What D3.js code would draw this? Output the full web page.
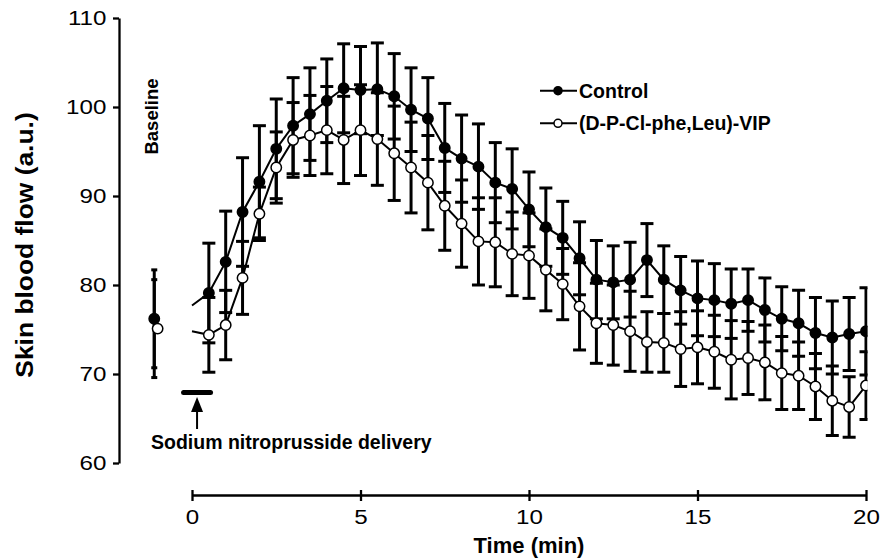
<!DOCTYPE html>
<html>
<head>
<meta charset="utf-8">
<script src="https://cdn.jsdelivr.net/npm/d3@7"></script>
<style>
  html, body { margin: 0; padding: 0; background: #fff; }
  svg { display: block; font-family: "Liberation Sans", Arial, Helvetica, sans-serif; }
</style>
</head>
<body>
<svg id="chart" width="892" height="559"></svg>
<script>
// Sampling times (min) after the start of sodium nitroprusside delivery
const timeMin = [0.5, 1, 1.5, 2, 2.5, 3, 3.5, 4, 4.5, 5, 5.5, 6, 6.5, 7, 7.5, 8, 8.5, 9, 9.5, 10,
                 10.5, 11, 11.5, 12, 12.5, 13, 13.5, 14, 14.5, 15, 15.5, 16, 16.5, 17, 17.5, 18, 18.5, 19, 19.5, 20];

// Control: mean and SEM
const controlMean = [79.1, 82.6, 88.2, 91.6, 95.3, 97.9, 99.2, 100.7, 102.1, 101.9,
                     102.0, 101.2, 99.7, 98.7, 95.4, 94.2, 93.3, 91.5, 90.8, 88.5,
                     86.5, 85.3, 83.0, 80.6, 80.3, 80.6, 82.8, 80.6, 79.4, 78.5,
                     78.3, 77.9, 78.3, 77.2, 76.2, 75.7, 74.6, 74.1, 74.5, 74.8];
const controlSem  = [5.6, 5.7, 6.1, 6.3, 5.6, 5.4, 5.2, 4.7, 5.0, 4.9,
                     5.2, 4.8, 4.7, 4.6, 5.0, 4.9, 4.8, 4.5, 4.5, 4.2,
                     4.4, 4.1, 4.1, 4.4, 4.1, 4.2, 4.1, 3.8, 3.8, 4.2,
                     4.1, 3.9, 3.5, 3.6, 3.6, 3.7, 4.0, 4.1, 4.1, 4.9];

// (D-P-Cl-phe,Leu)-VIP: mean and SEM
const vipMean = [74.4, 75.5, 80.8, 88.0, 93.2, 96.3, 96.8, 97.4, 96.3, 97.4,
                 96.4, 94.8, 93.2, 91.5, 88.9, 86.9, 84.9, 84.8, 83.5, 83.3,
                 81.7, 80.1, 77.6, 75.7, 75.5, 74.8, 73.6, 73.5, 72.8, 73.0,
                 72.5, 71.6, 71.8, 71.3, 70.1, 69.8, 68.6, 67.0, 66.3, 68.7];
const vipSem  = [4.2, 3.9, 4.1, 3.0, 4.0, 4.2, 4.5, 4.9, 4.9, 5.1,
                 5.2, 5.3, 5.1, 5.3, 5.0, 4.9, 4.9, 5.0, 4.7, 4.8,
                 4.6, 4.0, 4.9, 4.5, 4.5, 4.5, 3.4, 3.3, 4.2, 4.1,
                 4.1, 4.4, 4.1, 4.2, 4.1, 3.8, 3.7, 3.9, 3.4, 3.8];

// Curve values at delivery onset (t = 0, no marker)
const onsetTime = 0;
const onsetValue = [77.7, 74.8];          // control, VIP

// Baseline (before delivery): control, VIP
const baselineTime = [-1.12, -1.02];
const baselineMean = [76.2, 75.1];
const baselineSem  = [5.5, 5.5];

const seriesNames = ["Control", "(D-P-Cl-phe,Leu)-VIP"];
const xTicks = [0, 5, 10, 15, 20];
const yTicks = [60, 70, 80, 90, 100, 110];
const deliveryWindow = [-0.25, 0.55];     // min

const svg = d3.select("#chart");
const x = d3.scaleLinear().domain([0, 20]).range([192, 866]);
const y = d3.scaleLinear().domain([60, 110]).range([463, 18]);

const axisY = 119;   // x-position of the value axis
const axisX = 495;   // y-position of the time axis
const tickFont = 21, tickStretch = 1.15;

// ---- clip so the last error bar is cut at the end of the time axis
svg.append("defs").append("clipPath").attr("id", "plotClip")
  .append("rect").attr("x", 0).attr("y", 0).attr("width", x(20) + 1.5).attr("height", 559);

// ---- value axis
const gy = svg.append("g").attr("transform", `translate(${axisY},0)`)
  .call(d3.axisLeft(y).tickValues(yTicks).tickSize(6).tickSizeOuter(0).tickPadding(5));
gy.select(".domain").attr("stroke", "#000").attr("stroke-width", 2.3);
gy.selectAll(".tick line").attr("stroke", "#000").attr("stroke-width", 2.3);
gy.selectAll(".tick text").attr("font-size", tickFont).attr("fill", "#000")
  .attr("font-family", "Liberation Sans, Arial, sans-serif")
  .attr("transform", `scale(${tickStretch},1)`);

// ---- time axis
const gx = svg.append("g").attr("transform", `translate(0,${axisX})`)
  .call(d3.axisBottom(x).tickValues(xTicks).tickSize(6).tickSizeOuter(0).tickPadding(8));
gx.select(".domain").attr("stroke", "#000").attr("stroke-width", 2.3);
gx.selectAll(".tick line").attr("stroke", "#000").attr("stroke-width", 2.3).attr("y1", -5);
gx.selectAll(".tick text").attr("font-size", tickFont).attr("fill", "#000")
  .attr("font-family", "Liberation Sans, Arial, sans-serif")
  .attr("transform", `scale(${tickStretch},1)`);

// ---- axis titles
svg.append("text")
  .attr("transform", `translate(33,245) rotate(-90) scale(1.1,1)`)
  .attr("text-anchor", "middle").attr("font-size", 24).attr("font-weight", "bold")
  .text("Skin blood flow (a.u.)");
svg.append("text")
  .attr("x", (x(0) + x(20)) / 2).attr("y", 553)
  .attr("text-anchor", "middle").attr("font-size", 22).attr("font-weight", "bold")
  .text("Time (min)");

// ---- annotations
svg.append("text")
  .attr("transform", `translate(158,116.5) rotate(-90)`)
  .attr("text-anchor", "middle").attr("font-size", 18.5).attr("font-weight", "bold")
  .text("Baseline");

const delivY = 392.5;
svg.append("line")
  .attr("x1", x(deliveryWindow[0])).attr("x2", x(deliveryWindow[1]))
  .attr("y1", delivY).attr("y2", delivY)
  .attr("stroke", "#000").attr("stroke-width", 5).attr("stroke-linecap", "round");
const arrowX = (x(deliveryWindow[0]) + x(deliveryWindow[1])) / 2;
svg.append("line").attr("x1", arrowX).attr("x2", arrowX).attr("y1", 408).attr("y2", 429)
  .attr("stroke", "#000").attr("stroke-width", 2);
svg.append("path")
  .attr("d", `M${arrowX},397 L${arrowX - 6},412 L${arrowX + 6},412 Z`).attr("fill", "#000");
svg.append("text").attr("x", 151).attr("y", 449)
  .attr("font-size", 19.5).attr("font-weight", "bold")
  .text("Sodium nitroprusside delivery");

// ---- data layers
const plot = svg.append("g").attr("clip-path", "url(#plotClip)");

function errorBars(g, xs, means, sems, capW) {
  const rows = xs.map((t, i) => ({ t, m: means[i], s: sems[i] }));
  const eb = g.append("g").attr("stroke", "#000").attr("stroke-width", 3);
  eb.selectAll("line.v").data(rows).join("line").attr("class", "v")
    .attr("x1", d => x(d.t)).attr("x2", d => x(d.t))
    .attr("y1", d => y(d.m + d.s)).attr("y2", d => y(d.m - d.s));
  eb.selectAll("line.top").data(rows).join("line").attr("class", "top")
    .attr("x1", d => x(d.t) - capW / 2).attr("x2", d => x(d.t) + capW / 2)
    .attr("y1", d => y(d.m + d.s)).attr("y2", d => y(d.m + d.s));
  eb.selectAll("line.bot").data(rows).join("line").attr("class", "bot")
    .attr("x1", d => x(d.t) - capW / 2).attr("x2", d => x(d.t) + capW / 2)
    .attr("y1", d => y(d.m - d.s)).attr("y2", d => y(d.m - d.s));
}

// error bars (behind curves)
errorBars(plot, timeMin, controlMean, controlSem, 13);
errorBars(plot, timeMin, vipMean, vipSem, 13);
errorBars(plot, [baselineTime[0]], [baselineMean[0]], [baselineSem[0]], 6);
errorBars(plot, [baselineTime[0]], [baselineMean[1]], [baselineSem[1]], 6);

const line = d3.line().x(d => x(d[0])).y(d => y(d[1]));
const series = [
  { mean: controlMean, fill: "#000", r: 5.2 },
  { mean: vipMean, fill: "#fff", r: 5.2 }
];
series.forEach((s, k) => {
  const pts = [[onsetTime, onsetValue[k]]].concat(timeMin.map((t, i) => [t, s.mean[i]]));
  plot.append("path").datum(pts).attr("d", line)
    .attr("fill", "none").attr("stroke", "#000").attr("stroke-width", 2);
  plot.append("g").selectAll("circle").data(pts.slice(1)).join("circle")
    .attr("cx", d => x(d[0])).attr("cy", d => y(d[1])).attr("r", s.r)
    .attr("fill", s.fill).attr("stroke", "#000").attr("stroke-width", 1.5);
  plot.append("circle")
    .attr("cx", x(baselineTime[k])).attr("cy", y(baselineMean[k])).attr("r", s.r)
    .attr("fill", s.fill).attr("stroke", "#000").attr("stroke-width", 1.5);
});

// ---- legend
const legend = svg.append("g");
const legendRows = [90.7, 123.3];
seriesNames.forEach((name, k) => {
  const ly = legendRows[k];
  legend.append("line").attr("x1", 540).attr("x2", 577).attr("y1", ly).attr("y2", ly)
    .attr("stroke", "#000").attr("stroke-width", 2);
  legend.append("circle").attr("cx", 558).attr("cy", ly).attr("r", 4)
    .attr("fill", series[k].fill).attr("stroke", "#000").attr("stroke-width", 1.5);
  legend.append("text").attr("x", 579).attr("y", ly + 7)
    .attr("font-size", 19.5).attr("font-weight", "bold").text(name);
});
</script>
</body>
</html>
